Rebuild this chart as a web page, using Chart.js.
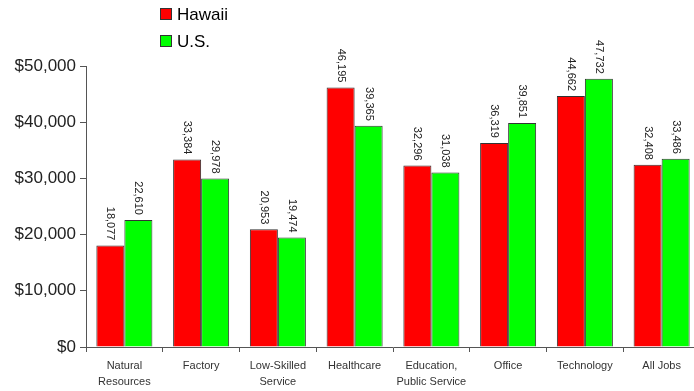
<!DOCTYPE html>
<html>
<head>
<meta charset="utf-8">
<script src="https://cdn.jsdelivr.net/npm/chart.js@4/dist/chart.umd.min.js"></script>
<style>
  html, body { margin: 0; padding: 0; overflow: hidden; background: #fff; }
  #wrap { width: 700px; height: 391px; }
</style>
</head>
<body>
<div id="wrap"><canvas id="jobs-chart" width="700" height="391"></canvas></div>
<script>
const categories = [
  ["Natural", "Resources"], "Factory", ["Low-Skilled", "Service"], "Healthcare",
  ["Education,", "Public Service"], "Office", "Technology", "All Jobs"
];
const hawaii = [18077, 33384, 20953, 46195, 32296, 36319, 44662, 32408];
const us = [22610, 29978, 19474, 39365, 31038, 39851, 47732, 33486];
const yTicks = [0, 10000, 20000, 30000, 40000, 50000];

// values written sideways above each bar
const barValues = {
  id: "barValues",
  afterDatasetsDraw(chart) {
    let ctx = chart.ctx;
    ctx.save();
    ctx.font = "11px 'Liberation Sans', Arial, sans-serif";
    ctx.fillStyle = "#222";
    ctx.textAlign = "right";
    ctx.textBaseline = "middle";
    chart.data.datasets.forEach((ds, i) => {
      chart.getDatasetMeta(i).data.forEach((bar, j) => {
        ctx.save();
        ctx.translate(bar.x, bar.y - 5);
        ctx.rotate(Math.PI / 2);
        ctx.fillText(ds.data[j].toLocaleString("en-US"), 0, 0);
        ctx.restore();
      });
    });
    ctx.restore();
  }
};

// stacked legend at top
const stackLegend = {
  id: "stackLegend",
  afterDraw(chart) {
    let ctx = chart.ctx;
    ctx.save();
    ctx.font = "17px 'Liberation Sans', Arial, sans-serif";
    ctx.textBaseline = "middle";
    ctx.textAlign = "left";
    chart.data.datasets.forEach((ds, i) => {
      let y = 14 + i * 27;
      ctx.fillStyle = ds.backgroundColor;
      ctx.fillRect(160, y - 6, 12, 12);
      ctx.strokeStyle = "#333";
      ctx.lineWidth = 1;
      ctx.strokeRect(160.5, y - 5.5, 11, 11);
      ctx.fillStyle = "#000";
      ctx.fillText(ds.label, 177, y + 1);
    });
    ctx.restore();
  }
};

var ctx1 = document.getElementById("jobs-chart").getContext("2d");
var myChart1 = new Chart(ctx1, {
  type: "bar",
  data: {
    labels: categories,
    datasets: [{
      label: "Hawaii",
      data: hawaii,
      backgroundColor: "#ff0000",
      borderColor: "#333",
      borderWidth: 1
    }, {
      label: "U.S.",
      data: us,
      backgroundColor: "#00ff00",
      borderColor: "#333",
      borderWidth: 1
    }]
  },
  options: {
    responsive: false,
    animation: false,
    layout: { padding: { top: 66, left: 0, right: 0, bottom: 0 } },
    datasets: { bar: { categoryPercentage: 0.73, barPercentage: 1.0 } },
    plugins: {
      legend: { display: false },
      tooltip: { enabled: false }
    },
    scales: {
      x: {
        offset: true,
        grid: { display: true, drawOnChartArea: false, tickLength: 5, color: "#555", offset: true },
        border: { color: "#555" },
        ticks: {
          color: "#333",
          padding: 6,
          maxRotation: 0,
          autoSkip: false,
          font: { family: "'Liberation Sans Narrow', 'Arial Narrow', 'Liberation Sans', sans-serif", size: 11, lineHeight: 1.45 }
        },
        afterFit: (scale) => { scale.height = 44; }
      },
      y: {
        min: 0,
        max: 50000,
        afterBuildTicks: (scale) => { scale.ticks = yTicks.map(v => ({ value: v })); },
        grid: { display: true, drawOnChartArea: false, tickLength: 6, color: "#555" },
        border: { color: "#555" },
        ticks: {
          color: "#222",
          padding: 4,
          font: { family: "'Liberation Sans', Arial, sans-serif", size: 17 },
          callback: (v) => "$" + v.toLocaleString("en-US")
        },
        afterFit: (scale) => { scale.width = 86; }
      }
    }
  },
  plugins: [barValues, stackLegend]
});
</script>
</body>
</html>
